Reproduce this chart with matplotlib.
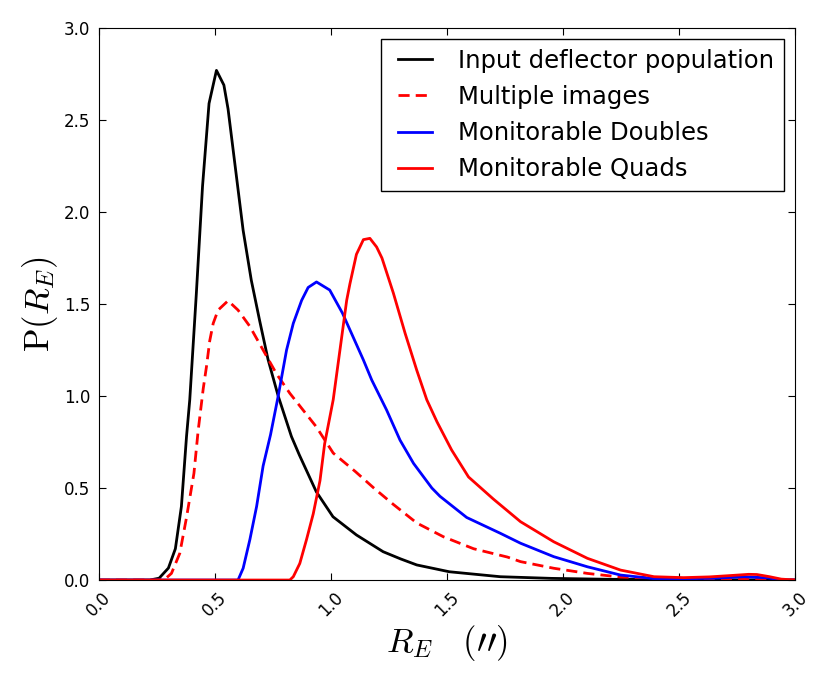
import numpy as np
import matplotlib
matplotlib.use('Agg')
import matplotlib.pyplot as plt

plt.rcParams['mathtext.fontset'] = 'cm'
plt.rcParams['font.family'] = 'DejaVu Sans'

# Input deflector population
x_input = [0.0, 0.22, 0.26, 0.30, 0.33, 0.356, 0.378, 0.392, 0.42, 0.447, 0.475,
           0.507, 0.539, 0.557, 0.622, 0.657, 0.693, 0.729, 0.773, 0.83, 0.864,
           0.937, 1.009, 1.11, 1.225, 1.30, 1.37, 1.51, 1.73, 1.95, 2.2, 2.5, 2.8, 3.0]
y_input = [0.0, 0.0, 0.01, 0.065, 0.17, 0.40, 0.78, 0.98, 1.55, 2.14, 2.59,
           2.77, 2.69, 2.56, 1.90, 1.63, 1.41, 1.20, 1.00, 0.78, 0.68,
           0.48, 0.344, 0.245, 0.154, 0.115, 0.082, 0.045, 0.018, 0.009, 0.004, 0.002, 0.001, 0.0]

# Multiple images
x_multi = [0.0, 0.26, 0.285, 0.313, 0.349, 0.378, 0.41, 0.428, 0.45, 0.464, 0.478,
           0.493, 0.514, 0.557, 0.60, 0.65, 0.708, 0.766, 0.823, 0.88, 0.937,
           1.01, 1.105, 1.185, 1.27, 1.37, 1.485, 1.615, 1.76, 1.817, 1.96, 2.105,
           2.248, 2.5, 2.8, 3.0]
y_multi = [0.0, 0.0, 0.005, 0.036, 0.145, 0.34, 0.58, 0.81, 1.04, 1.16, 1.30,
           1.395, 1.467, 1.518, 1.467, 1.38, 1.25, 1.12, 1.015, 0.924, 0.833,
           0.69, 0.59, 0.50, 0.41, 0.31, 0.235, 0.17, 0.125, 0.10, 0.064, 0.036,
           0.016, 0.008, 0.006, 0.0]

# Monitorable doubles
x_doubles = [0.0, 0.60, 0.622, 0.651, 0.68, 0.708, 0.74, 0.773, 0.809, 0.838, 0.874,
             0.902, 0.938, 0.995, 1.05, 1.14, 1.176, 1.24, 1.298, 1.356, 1.435, 1.47,
             1.585, 1.73, 1.817, 1.96, 2.105, 2.248, 2.39, 2.5, 2.65, 2.78, 2.88, 2.95, 3.0]
y_doubles = [0.0, 0.0, 0.064, 0.22, 0.40, 0.62, 0.79, 1.0, 1.25, 1.395, 1.52,
             1.59, 1.62, 1.576, 1.45, 1.196, 1.087, 0.924, 0.76, 0.634, 0.50, 0.455,
             0.34, 0.254, 0.20, 0.127, 0.072, 0.027, 0.008, 0.006, 0.01, 0.018, 0.012, 0.0, 0.0]

# Monitorable quads
x_quads = [0.0, 0.823, 0.838, 0.866, 0.895, 0.924, 0.953, 0.973, 1.01, 1.039, 1.068,
           1.082, 1.11, 1.14, 1.168, 1.197, 1.22, 1.269, 1.32, 1.37, 1.413,
           1.457, 1.52, 1.593, 1.70, 1.817, 1.96, 2.105, 2.248, 2.392, 2.52, 2.63,
           2.73, 2.80, 2.835, 2.89, 2.94, 3.0]
y_quads = [0.0, 0.0, 0.018, 0.09, 0.22, 0.36, 0.54, 0.74, 0.98, 1.25, 1.52,
           1.61, 1.77, 1.85, 1.857, 1.81, 1.75, 1.56, 1.34, 1.14, 0.98,
           0.86, 0.707, 0.56, 0.44, 0.317, 0.208, 0.118, 0.054, 0.018, 0.013, 0.017,
           0.025, 0.031, 0.03, 0.018, 0.005, 0.0]

fig = plt.figure(figsize=(8.3, 6.84), dpi=100)
ax = fig.add_axes([0.119, 0.152, 0.839, 0.807])

ax.plot(x_input, y_input, color='black', lw=2, label='Input deflector population')
ax.plot(x_multi, y_multi, color='red', lw=2, ls='--', dashes=(4, 2.2), label='Multiple images')
ax.plot(x_doubles, y_doubles, color='blue', lw=2, label='Monitorable Doubles')
ax.plot(x_quads, y_quads, color='red', lw=2, label='Monitorable Quads')

ax.set_xlim(0, 3)
ax.set_ylim(0, 3)
ax.set_xticks(np.arange(0, 3.01, 0.5))
ax.set_yticks(np.arange(0, 3.01, 0.5))
ax.tick_params(direction='in', top=True, right=True, length=5, labelsize=12, pad=6)
plt.setp(ax.get_xticklabels(), rotation=45, ha='center')

ax.set_xlabel(r'$R_E\quad(\prime\prime)$', fontsize=25, labelpad=2)
ax.set_ylabel(r'$\mathrm{P}(R_E)$', fontsize=25, labelpad=3)

leg = ax.legend(loc='upper right', fontsize=17.5, fancybox=False, framealpha=1,
                edgecolor='black', numpoints=2, handlelength=2, handletextpad=0.8,
                labelspacing=0.5, borderpad=0.4, borderaxespad=0.45)
leg.get_frame().set_linewidth(1)

fig.savefig('out.png', dpi=100, facecolor='white')
